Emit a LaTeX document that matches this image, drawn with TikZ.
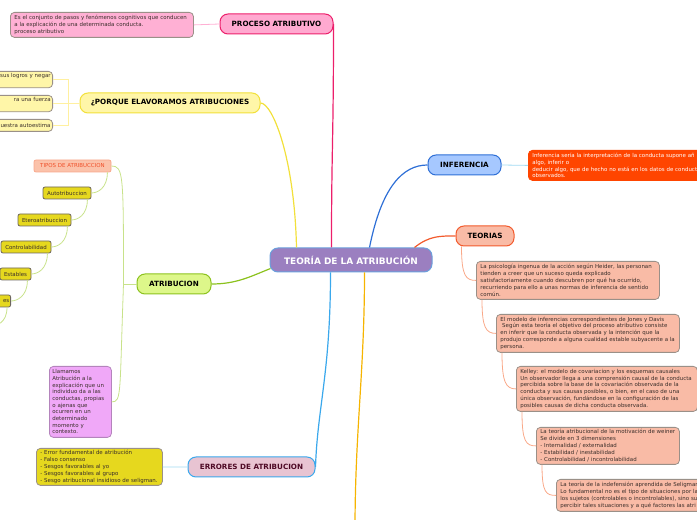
\documentclass[tikz,border=0pt]{standalone}
\usepackage{fontspec}
\setmainfont{DejaVu Sans}
\usetikzlibrary{positioning,calc}
\definecolor{centrefill}{HTML}{9B7FC0}
\definecolor{centreline}{HTML}{6AA0DC}
\definecolor{procfill}{HTML}{FFA9D0}
\definecolor{procline}{HTML}{EC1F6B}
\definecolor{pnotefill}{HTML}{FFB0D4}
\definecolor{porqfill}{HTML}{FFF6A8}
\definecolor{porqline}{HTML}{F2E03A}
\definecolor{porqlink}{HTML}{FFF0A0}
\definecolor{inffill}{HTML}{A6C8FF}
\definecolor{infline}{HTML}{2E6FD6}
\definecolor{infnote}{HTML}{FF4500}
\definecolor{teofill}{HTML}{F9BBA6}
\definecolor{teoline}{HTML}{F25A2C}
\definecolor{teolink}{HTML}{F9A888}
\definecolor{atrfill}{HTML}{DDF78A}
\definecolor{atrline}{HTML}{8CC21E}
\definecolor{atrlink}{HTML}{C8E28A}
\definecolor{tagyellow}{HTML}{E6D81E}
\definecolor{tipfill}{HTML}{FBC2AA}
\definecolor{tipline}{HTML}{F8A88C}
\definecolor{tiptext}{HTML}{F0502A}
\definecolor{llamfill}{HTML}{F0A8F8}
\definecolor{llamline}{HTML}{B484BC}
\definecolor{errfill}{HTML}{E8C4D2}
\definecolor{errline}{HTML}{3AA8EC}
\definecolor{errtext}{HTML}{4E0A26}
\definecolor{errlink}{HTML}{A2DAF2}
\definecolor{notegrey}{HTML}{9A9088}
\definecolor{notetext}{HTML}{3A2E2A}
\definecolor{downlink}{HTML}{F6B400}
\tikzset{
    mindmap/.style={
        x=0.75pt, y=-0.75pt,
        % Stile per i temi principali (pillola)
        topic/.style={draw, rounded corners=6pt, line width=0.75pt,
                      font=\fontsize{5.4}{6}\selectfont\bfseries,
                      inner sep=0pt, minimum height=15pt},
        % Stile per le note (rettangolo arrotondato)
        note/.style={draw=notegrey, rounded corners=3pt, line width=0.6pt,
                     align=left, anchor=north west, text=notetext,
                     font=\fontsize{4.1}{5.2}\selectfont,
                     inner xsep=3pt, inner ysep=1.2pt},
        % Stile per le etichette piccole
        tag/.style={draw=notegrey!70!black, rounded corners=1.5pt, line width=0.6pt,
                    fill=tagyellow, text=notetext, font=\fontsize{4.1}{4.5}\selectfont,
                    inner sep=1pt, minimum height=9pt},
        mainlink/.style={line width=0.9pt},
        sublink/.style={line width=0.6pt}
    }
}
\begin{document}
\begin{tikzpicture}[mindmap]
    \useasboundingbox (0,0) rectangle (697,520);
    \clip (0,0) rectangle (697,520);
    % tema centrale
    \node[topic, fill=centrefill, draw=centreline, text=white,
          font=\fontsize{6.7}{7}\selectfont\bfseries,
          minimum width=121.5pt, minimum height=18pt] (centre) at (351,260) {TEORÍA DE LA ATRIBUCIÓN};
    % rami principali
    \node[topic, fill=procfill, draw=procline, minimum width=84.75pt] (proc) at (276.5,24) {PROCESO ATRIBUTIVO};
    \node[topic, fill=porqfill, draw=porqline, minimum width=135pt] (porq) at (170,103) {¿PORQUE ELAVORAMOS ATRIBUCIONES};
    \node[topic, fill=inffill, draw=infline, minimum width=54.75pt] (infer) at (464.5,165) {INFERENCIA};
    \node[topic, fill=teofill, draw=teoline, minimum width=43.5pt] (teor) at (485,236) {TEORIAS};
    \node[topic, fill=atrfill, draw=atrline, minimum width=55.5pt] (atrib) at (174,284) {ATRIBUCION};
    \node[topic, fill=errfill, draw=errline, text=errtext, minimum width=95.25pt] (err) at (251.5,467) {ERRORES DE ATRIBUCION};
    % note
    \node[note, fill=pnotefill, text width=131.25pt, minimum height=18.75pt] (pnote) at (10,12)
        {Es el conjunto de pasos y fenómenos cognitivos que conducen\\ a la explicación de una determinada conducta.\\ proceso atributivo};
    \node[note, fill=infnote, draw=infnote, text=white, text width=181.5pt, minimum height=22.5pt] (inote) at (528,150)
        {Inferencia sería la interpretación de la conducta supone añ\\ algo, inferir o\\ deducir algo, que de hecho no está en los datos de conducta\\ observados.};
    \node[note, fill=teofill, text width=131.25pt, minimum height=28.5pt] (teo1) at (476,261)
        {La psicología ingenua de la acción según Heider, las personan\\ tienden a creer que un suceso queda explicado\\ satisfactoriamente cuando descubren por qué ha ocurrido,\\ recurriendo para ello a unas normas de inferencia de sentido\\ común.};
    \node[note, fill=teofill, text width=131.25pt, minimum height=28.5pt] (teo2) at (496,314)
        {El modelo de inferencias correspondientes de Jones y Davis\\ \ Según esta teoría el objetivo del proceso atributivo consiste\\ en inferir que la conducta observada y la intención que la\\ produjo corresponde a alguna cualidad estable subyacente a la\\ persona.};
    \node[note, fill=teofill, text width=129.75pt, minimum height=33.75pt] (teo3) at (516,366)
        {Kelley: el modelo de covariacion y los esquemas causales\\ Un observador llega a una comprensión causal de la conducta\\ percibida sobre la base de la covariación observada de la\\ conducta y sus causas posibles, o bien, en el caso de una\\ única observación, fundándose en la configuración de las\\ posibles causas de dicha conducta observada.};
    \node[note, fill=teofill, text width=101.25pt, minimum height=27.75pt] (teo4) at (536,427)
        {La teoría atribucional de la motivación de weiner\\ Se divide en 3 dimensiones\\ - Internalidad / externalidad\\ - Estabilidad / inestabilidad\\ - Controlabilidad / incontrolabilidad};
    \node[note, fill=teofill, text width=144pt, minimum height=24pt] (teo5) at (556,479)
        {La teoría de la indefensión aprendida de Seligman\\ Lo fundamental no es el tipo de situaciones por la\\ los sujetos (controlables o incontrolables), sino su\\ percibir tales situaciones y a qué factores las atri};
    \node[note, fill=llamfill, draw=llamline, text width=42pt, inner xsep=2.25pt, minimum height=53.25pt,
          font=\fontsize{4.1}{5}\selectfont] (llam) at (49,366)
        {Llamamos\\ Atribución a la\\ explicación que un\\ individuo da a las\\ conductas, propias\\ o ajenas que\\ ocurren en un\\ determinado\\ momento y\\ contexto.};
    \node[note, fill=tagyellow, text width=88.5pt, minimum height=27.75pt] (enote) at (36,448)
        {- Error fundamental de atribución\\ - Falso consenso\\ - Sesgos favorables al yo\\ - Sesgos favorables al grupo\\ - Sesgo atribucional insidioso de seligman.};
    % motivi (tagliati a sinistra)
    \node[note, anchor=north east, fill=porqfill, align=right, text width=76pt, inner xsep=1.5pt] (why1) at (53,71)
        {sus logros y negar\\ \strut};
    \node[note, anchor=north east, fill=porqfill, align=right, text width=76pt, inner xsep=1.5pt] (why2) at (53,95)
        {ra una fuerza\\ \strut};
    \node[note, anchor=north east, fill=porqfill, align=right, text width=76pt, inner xsep=1.5pt, minimum height=9pt] (why3) at (53,119)
        {uestra autoestima};
    % tipi di attribuzione
    \node[tag, fill=tipfill, draw=tipline, text=tiptext, minimum width=57.75pt] (tipos) at (72.5,166) {TIPOS DE ATRIBUCCION};
    \node[tag, minimum width=36pt] (auto) at (67,193) {Autotribuccion};
    \node[tag, minimum width=39.75pt] (etero) at (44.5,220) {Eteroatribuccion};
    \node[tag, minimum width=37.5pt] (contr) at (26,247) {Controlabilidad};
    \node[tag, minimum width=23.25pt] (estab) at (15.5,274) {Estables};
    \node[tag, anchor=east, align=right, text width=28pt] (inest) at (11,301) {es};
    % collegamenti al tema centrale
    \draw[mainlink, procline] (proc.east) .. controls +(0,120) and +(0,-100) .. ($(centre.north west)+(62,0)$);
    \draw[mainlink, porqline] (porq.east) .. controls +(12,0) and +(-2,-90) .. ($(centre.north west)+(27,0)$);
    \draw[mainlink, infline] ($(centre.north west)+(100,0)$) .. controls +(12,-60) and +(-25,0) .. (infer.west);
    \draw[mainlink, teoline] ($(centre.north west)+(145,0)$) .. controls +(15,-12) and +(-15,0) .. (teor.west);
    \draw[mainlink, atrline] (atrib.east) .. controls +(25,0) and +(-20,8) .. ($(centre.south west)+(1,-4)$);
    \draw[mainlink, errline] ($(centre.south west)+(61,0)$) .. controls +(0,100) and +(2,-60) .. (err.east);
    \draw[mainlink, downlink] ($(centre.south west)+(95,0)$) .. controls +(0,100) and +(0,-100) .. (355,530);
    % collegamenti delle note
    \draw[sublink, pnotefill] (pnote.east) -- (proc.west);
    \draw[sublink, errlink] (infer.east) -- (inote.west);
    \draw[sublink, errlink] (enote.east) -- (err.west);
    \draw[sublink, porqlink] (porq.west) -- ++(-11,0) |- (why1.east);
    \draw[sublink, porqlink] (porq.west) -- ++(-11,0) |- (why2.east);
    \draw[sublink, porqlink] (porq.west) -- ++(-11,0) |- (why3.east);
    % scala delle teorie
    \draw[sublink, teolink] ([xshift=4.5pt]teor.south west) .. controls +(0,30) and +(-10,0) .. (teo1.west);
    \draw[sublink, teolink] ([xshift=4.5pt]teo1.south west) .. controls +(0,28) and +(-10,0) .. (teo2.west);
    \draw[sublink, teolink] ([xshift=4.5pt]teo2.south west) .. controls +(0,30) and +(-10,0) .. (teo3.west);
    \draw[sublink, teolink] ([xshift=4.5pt]teo3.south west) .. controls +(0,30) and +(-10,0) .. (teo4.west);
    \draw[sublink, teolink] ([xshift=4.5pt]teo4.south west) .. controls +(0,28) and +(-10,0) .. (teo5.west);
    % ramo ATRIBUCION
    \draw[sublink, atrlink] (atrib.west) -- ++(-13,0) coordinate (fork);
    \draw[sublink, atrlink] (fork) .. controls +(0,-110) and +(12,0) .. (tipos.east);
    \draw[sublink, atrlink] (fork) .. controls +(-4,110) and +(10,0) .. (llam.east);
    \draw[sublink, atrlink] ([xshift=-3pt]tipos.south east) .. controls +(0,16) and +(6,0) .. (auto.east);
    \draw[sublink, atrlink] ([xshift=-3pt]auto.south east) .. controls +(0,16) and +(6,0) .. (etero.east);
    \draw[sublink, atrlink] ([xshift=-3pt]etero.south east) .. controls +(0,16) and +(6,0) .. (contr.east);
    \draw[sublink, atrlink] ([xshift=-3pt]contr.south east) .. controls +(0,16) and +(6,0) .. (estab.east);
    \draw[sublink, atrlink] ([xshift=-3pt]estab.south east) .. controls +(0,16) and +(6,0) .. (inest.east);
    \draw[sublink, atrlink] ([xshift=-3pt]inest.south east) .. controls +(0,16) and +(6,0) .. (-10,326);
\end{tikzpicture}
\end{document}
